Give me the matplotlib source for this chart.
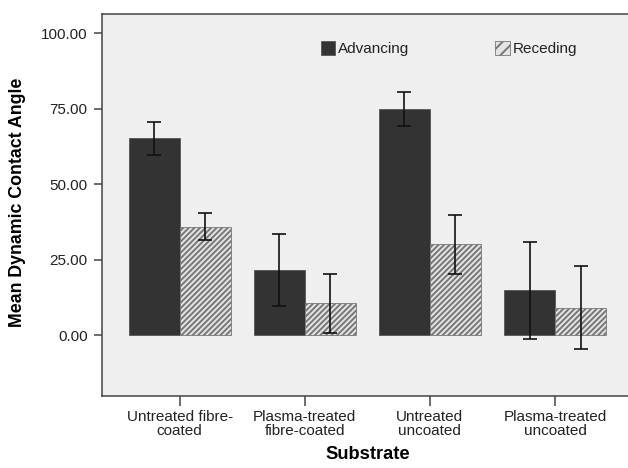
import matplotlib
matplotlib.use("Agg")
import matplotlib.pyplot as plt
from matplotlib.patches import Patch
import numpy as np

categories = ["Untreated fibre-\ncoated", "Plasma-treated\nfibre-coated",
              "Untreated\nuncoated", "Plasma-treated\nuncoated"]
advancing = [65.1, 21.6, 74.8, 14.8]
advancing_err = [5.5, 12.0, 5.6, 16.0]
receding = [35.9, 10.5, 30.0, 9.0]
receding_err = [4.5, 9.8, 9.7, 13.8]
yticks = [0, 25, 50, 75, 100]

plt.rcParams['font.family'] = ['Liberation Sans', 'DejaVu Sans']
plt.rcParams['hatch.linewidth'] = 1.4

W, H = 628, 468
fig = plt.figure(figsize=(W / 100, H / 100), dpi=100)
left, right, top, bottom = 102.3, 632.4, 14.0, 395.7
ax = fig.add_axes([left / W, (H - bottom) / H, (right - left) / W, (bottom - top) / H])
ax.set_facecolor('#efefef')

x = np.arange(len(categories))
w = 0.407
hatch_pat = '//////'
ax.bar(x - w / 2, advancing, width=w, color='#333333', edgecolor='#555555', linewidth=0.6)
ax.bar(x + w / 2, receding, width=w, color='#e4e4e4', edgecolor='#777777', hatch=hatch_pat, linewidth=0.6)
ekw = dict(fmt='none', ecolor='#111111', elinewidth=1.2, capsize=4.8, capthick=1.2)
ax.errorbar(x - w / 2, advancing, yerr=advancing_err, **ekw)
ax.errorbar(x + w / 2, receding, yerr=receding_err, **ekw)

ax.set_xlim(-0.618, 3.618)
ax.set_ylim(-20.1, 106.3)
ax.set_yticks(yticks)
ax.set_yticklabels([f"{v:.2f}" for v in yticks])
ax.set_xticks(x)
ax.set_xticklabels(categories, linespacing=1.05)

for s in ax.spines.values():
    s.set_color('#444444')
    s.set_linewidth(1.1)
ax.tick_params(axis='y', direction='out', length=6, width=1.1, color='#444444',
               labelsize=11, labelcolor='#222222', pad=4.5)
ax.tick_params(axis='x', direction='out', length=7, width=1.1, color='#444444',
               labelsize=11, labelcolor='#222222', pad=3)

ax.set_xlabel("Substrate", fontsize=13.2, fontweight='bold', labelpad=6)
fig.text(17.5 / W, 1 - 202.5 / H, "Mean Dynamic Contact Angle", rotation=90,
         fontsize=12.8, fontweight='bold', ha='center', va='center')

handles = [Patch(facecolor='#333333', edgecolor='#555555', linewidth=0.6),
           Patch(facecolor='#e4e4e4', edgecolor='#777777', hatch='///', linewidth=0.6)]
leg = ax.legend(handles, ["Advancing", "Receding"], ncol=2, frameon=False,
                loc='upper left', bbox_to_anchor=(320.7 / W, 1 - 41.5 / H),
                bbox_transform=fig.transFigure, borderpad=0, borderaxespad=0,
                handlelength=0.95, handleheight=0.95, handletextpad=0.2,
                columnspacing=5.6, fontsize=11)
for t in leg.get_texts():
    t.set_color('#222222')

fig.savefig("out.png", dpi=100)
